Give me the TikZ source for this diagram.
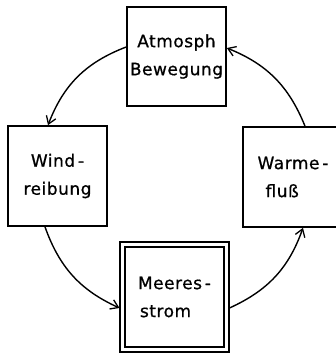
\documentclass[tikz,border=0pt]{standalone}
\usepackage{fontspec}
\newfontfamily\labfont[LetterSpace=3,FakeBold=0.8]{DejaVu Sans}
\usetikzlibrary{arrows.meta}
\begin{document}
\begin{tikzpicture}[x=1pt,y=-1pt,
  box/.style={draw,line width=1.7pt,minimum width=99pt,minimum height=99pt,inner sep=0pt,
    font=\labfont\fontsize{17}{28}\selectfont},
  flow/.style={line width=1.4pt,-{Straight Barb[length=7.5pt,width=10pt,line width=1.3pt]}}]
\useasboundingbox (0,0) rectangle (336,354);
\clip (0,0) rectangle (336,354);
\node[box,align=center] (atm) at (176.5,56.5) {Atmosph\\Bewegung};
\node[box,minimum height=100pt,align=center] (wind) at (57.5,176) {Wind\,-\\reibung};
\node[box,minimum width=100pt,minimum height=100pt,align=left] (warme) at (293,177) {Warme\,-\\\hspace{8pt}fluß};
\node[box,double,double distance=3pt,outer sep=3pt,minimum width=104pt,minimum height=105pt,align=left] (meer) at (174.5,297) {Meeres\,-\\\hspace{2pt}strom};
\draw[flow] ([yshift=9.5pt]atm.west) to[bend right=24] ([xshift=-9.5pt]wind.north);
\draw[flow] ([xshift=-12.5pt]wind.south) to[bend right=23] ([yshift=-11pt]meer.west);
\draw[flow] ([yshift=-11pt]meer.east) to[bend right=23] ([xshift=10pt]warme.south);
\draw[flow] ([xshift=12pt]warme.north) to[bend right=23] ([yshift=8.5pt]atm.east);
\end{tikzpicture}
\end{document}
